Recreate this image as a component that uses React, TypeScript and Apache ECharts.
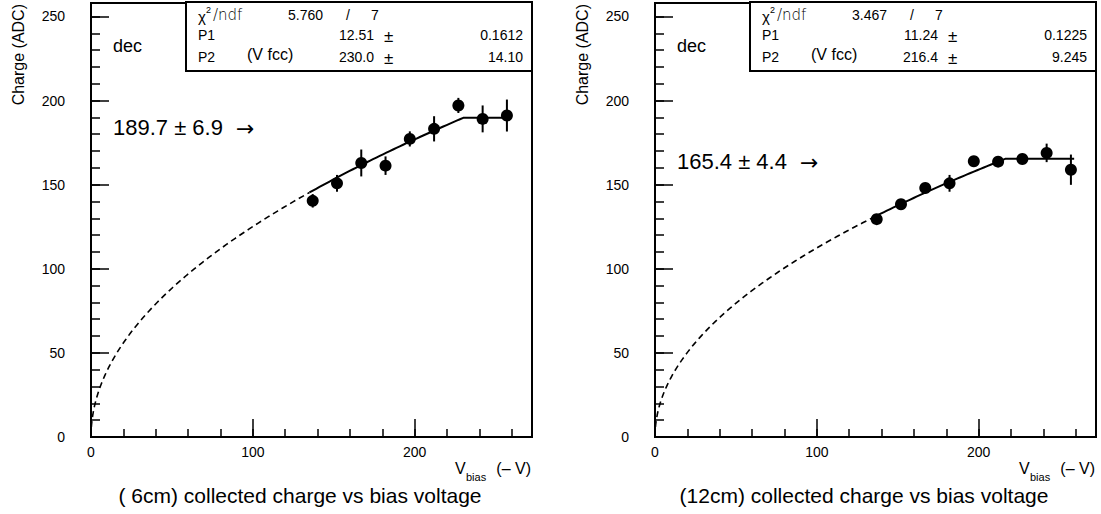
import React, { useEffect, useRef } from "react";
import * as echarts from "echarts";

// bias voltage of each measurement (V)
const VBIAS = [137, 152, 167, 182, 197, 212, 227, 242, 257];
// 6 cm detector: collected charge (ADC) and errors
const Q6 = [140.4, 150.8, 162.9, 161.3, 177.2, 183.2, 197.1, 189.1, 191.1];
const E6 = [4, 5, 8, 5.5, 4.5, 7.5, 4.5, 8, 9.5];
// 12 cm detector
const Q12 = [129.5, 138.4, 148.0, 150.8, 163.9, 163.7, 165.3, 168.9, 158.9];
const E12 = [2.5, 2.5, 3, 5, 3, 2.5, 2.5, 5.5, 9];

// fit parameters (Q = P1 * sqrt(min(V, P2)))
const P1_6 = 12.51;
const P2_6 = 230.0;
const P1_12 = 11.24;
const P2_12 = 216.4;
const FIT_RANGE = [135, 259];

const STATS6 = ["5.760", "7", "12.51", "0.1612", "230.0", "14.10"];
const STATS12 = ["3.467", "7", "11.24", "0.1225", "216.4", "9.245"];
const PLATEAU6 = "189.7 ± 6.9";
const PLATEAU12 = "165.4 ± 4.4";
const TITLES = ["( 6cm) collected charge vs bias voltage", "(12cm) collected charge vs bias voltage"];

const X_MAX = 272.5;
const Y_MAX = 258;
const FONT = "Liberation Sans, Arial, sans-serif";

function fitCurve(p1: number, p2: number, from: number, to: number, n: number, quad: boolean) {
  const pts: number[][] = [];
  for (let i = 0; i <= n; i++) {
    const t = i / n;
    const v = from + (to - from) * (quad ? t * t : t);
    pts.push([v, p1 * Math.sqrt(Math.min(v, p2))]);
  }
  if (p2 > from && p2 < to) {
    pts.push([p2, p1 * Math.sqrt(p2)]);
    pts.sort((a, b) => a[0] - b[0]);
  }
  return pts;
}

export default function App() {
  const ref = useRef<HTMLDivElement>(null);
  useEffect(() => {
    if (!ref.current) return;
    const chart = echarts.init(ref.current, undefined, { renderer: "svg" });

    const GRID_W = 441;
    const grids = [
      { left: 91, top: 3, width: GRID_W, height: 434, show: true, borderColor: "#000", borderWidth: 2, backgroundColor: "#fff" },
      { left: 655, top: 3, width: GRID_W, height: 434, show: true, borderColor: "#000", borderWidth: 2, backgroundColor: "#fff" },
    ];

    const xAxes: any[] = [];
    const yAxes: any[] = [];
    for (let g = 0; g < 2; g++) {
      xAxes.push({
        type: "value", gridIndex: g, position: "bottom", min: 0, max: X_MAX, interval: 20,
        axisLine: { show: false }, splitLine: { show: false },
        axisTick: { show: true, inside: true, length: 8, lineStyle: { color: "#000", width: 1.5 } },
        axisLabel: { show: false },
      });
      xAxes.push({
        type: "value", gridIndex: g, position: "bottom", min: 0, max: X_MAX, interval: 100,
        axisLine: { show: false }, splitLine: { show: false },
        axisTick: { show: true, inside: true, length: 18, lineStyle: { color: "#000", width: 1.5 } },
        axisLabel: {
          show: true, margin: 8, color: "#000", fontSize: 14, fontFamily: FONT,
          formatter: (v: number) => (v % 100 === 0 ? String(v) : ""),
        },
      });
      yAxes.push({
        type: "value", gridIndex: g, position: "left", min: 0, max: Y_MAX, interval: 10,
        axisLine: { show: false }, splitLine: { show: false },
        axisTick: { show: true, inside: true, length: 9, lineStyle: { color: "#000", width: 1.5 } },
        axisLabel: { show: false },
      });
      yAxes.push({
        type: "value", gridIndex: g, position: "left", min: 0, max: Y_MAX, interval: 50,
        axisLine: { show: false }, splitLine: { show: false },
        axisTick: { show: true, inside: true, length: 18, lineStyle: { color: "#000", width: 1.5 } },
        axisLabel: {
          show: true, margin: 26, color: "#000", fontSize: 14, fontFamily: FONT,
          formatter: (v: number) => (v % 50 === 0 ? String(v) : ""),
        },
      });
    }

    const panels = [
      { q: Q6, e: E6, p1: P1_6, p2: P2_6 },
      { q: Q12, e: E12, p1: P1_12, p2: P2_12 },
    ];

    const series: any[] = [];
    panels.forEach((p, g) => {
      const xi = g * 2 + 1;
      const yi = g * 2 + 1;
      series.push({
        type: "line", xAxisIndex: xi, yAxisIndex: yi, showSymbol: false, symbol: "none",
        data: fitCurve(p.p1, p.p2, 0, FIT_RANGE[0], 80, true),
        lineStyle: { color: "#000", width: 1.6, type: [6, 4] }, z: 3,
      });
      series.push({
        type: "line", xAxisIndex: xi, yAxisIndex: yi, showSymbol: false, symbol: "none",
        data: fitCurve(p.p1, p.p2, FIT_RANGE[0], FIT_RANGE[1], 60, false),
        lineStyle: { color: "#000", width: 2 }, z: 3,
      });
      series.push({
        type: "custom", xAxisIndex: xi, yAxisIndex: yi, z: 4,
        data: VBIAS.map((v, i) => [v, p.q[i], p.e[i]]),
        renderItem: (params: any, api: any) => {
          const x = api.value(0);
          const y = api.value(1);
          const e = api.value(2);
          const a = api.coord([x, y - e]);
          const b = api.coord([x, y + e]);
          return {
            type: "line",
            shape: { x1: a[0], y1: a[1], x2: b[0], y2: b[1] },
            style: { stroke: "#000", lineWidth: 2 },
          };
        },
      });
      series.push({
        type: "scatter", xAxisIndex: xi, yAxisIndex: yi, symbol: "circle", symbolSize: 12, z: 5,
        itemStyle: { color: "#000", opacity: 1 },
        data: VBIAS.map((v, i) => [v, p.q[i]]),
      });
    });

    const graphics: any[] = [];
    const statSets = [STATS6, STATS12];
    const plateaus = [PLATEAU6, PLATEAU12];
    const plateauY = [127, 161];
    [0, 564].forEach((dx, g) => {
      const s = statSets[g];
      const bx = 186 + dx;
      const bw = 91 + GRID_W + dx - bx;
      graphics.push({
        type: "rect", shape: { x: bx, y: 2, width: bw, height: 69 },
        style: { fill: "#fff", stroke: "#000", lineWidth: 2 }, z: 10,
      });
      const t = (text: string, x: number, y: number, size: number, align = "left", extra: any = {}) =>
        graphics.push({
          type: "text", x, y, z: 11,
          style: { text, fill: "#000", fontSize: size, fontFamily: FONT, align, verticalAlign: "middle", ...extra },
        });
      t("χ", 198 + dx, 16, 15);
      t("2", 206 + dx, 10, 9);
      t("/ndf", 213 + dx, 15, 15, "left", { fontFamily: "DejaVu Sans, sans-serif", fontWeight: 300 });
      t(s[0], 288 + dx, 15, 14);
      t("/", 346 + dx, 15, 14);
      t(s[1], 371 + dx, 15, 14);
      t("P1", 198 + dx, 35, 14);
      t(s[2], 374 + dx, 35, 14, "right");
      t("±", 384 + dx, 36, 17);
      t(s[3], 523 + dx, 35, 14, "right");
      t("P2", 198 + dx, 57, 14);
      t("(V fcc)", 247 + dx, 54, 16);
      t(s[4], 374 + dx, 57, 14, "right");
      t("±", 384 + dx, 58, 17);
      t(s[5], 523 + dx, 57, 14, "right");
      // panel decorations
      t("dec", 113 + dx, 46, 18);
      t(plateaus[g], 113 + dx, plateauY[g], 22);
      t("→", 236 + dx, plateauY[g] + 1, 22, "left", { fontFamily: "DejaVu Sans, sans-serif" });
      t("V", 455 + dx, 468, 16);
      t("bias", 466 + dx, 477, 11);
      t("(– V)", 531 + dx, 468, 16, "right");
      t(TITLES[g], 300 + dx, 495, 21, "center");
      graphics.push({
        type: "text", x: 18 + dx, y: 4, rotation: Math.PI / 2, z: 11,
        style: { text: "Charge (ADC)", fill: "#000", fontSize: 16, fontFamily: FONT, align: "right", verticalAlign: "middle" },
      });
    });

    chart.setOption({
      animation: false,
      backgroundColor: "#fff",
      grid: grids,
      xAxis: xAxes,
      yAxis: yAxes,
      series,
      graphic: { elements: graphics },
    });
    return () => chart.dispose();
  }, []);

  return (
    <div
      ref={ref}
      style={{ position: "fixed", left: 0, top: 0, width: 1101, height: 514, background: "#fff" }}
    />
  );
}
